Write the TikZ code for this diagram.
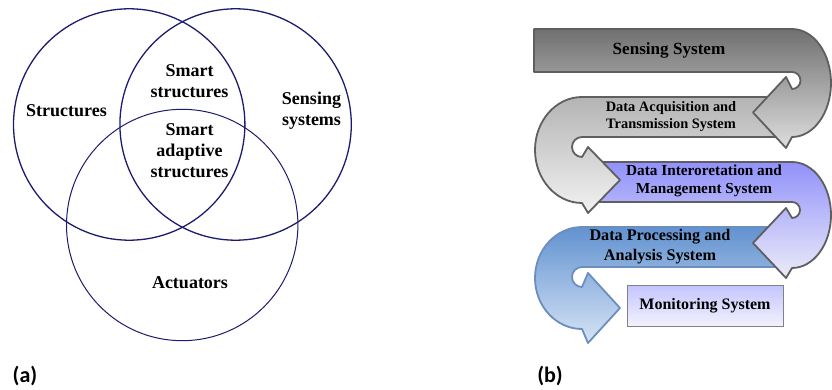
\documentclass[tikz,border=0pt]{standalone}
\usepackage{fontspec}
\setmainfont{Liberation Serif}
\newfontfamily\labelfont{Carlito}
\definecolor{venn}{RGB}{28,28,110}
\definecolor{edgegray}{RGB}{95,95,95}
\definecolor{edgeblue}{RGB}{108,142,190}
\definecolor{bonetop}{RGB}{112,112,112}
\definecolor{bonebot}{RGB}{222,222,222}
\definecolor{btwotop}{RGB}{180,180,180}
\definecolor{btwobot}{RGB}{242,242,242}
\definecolor{bthreetop}{RGB}{145,145,250}
\definecolor{bthreebot}{RGB}{236,236,249}
\definecolor{bfourtop}{RGB}{98,146,208}
\definecolor{bfourbot}{RGB}{214,228,245}
\definecolor{montop}{RGB}{196,196,255}
\definecolor{monbot}{RGB}{242,242,252}
\definecolor{monedge}{RGB}{130,130,130}
\begin{document}
\begin{tikzpicture}[x=1pt,y=1pt,
  vennc/.style={draw=venn, line width=1.3pt},
  venntext/.style={font=\fontsize{18}{21}\selectfont\bfseries, align=center, inner sep=0pt},
  band/.style={draw=edgegray, line width=1.8pt, line join=round},
  bandb/.style={draw=edgeblue, line width=1.8pt, line join=round},
  btext/.style={align=center, inner sep=0pt},
  panellabel/.style={font=\labelfont\fontsize{22}{24}\selectfont\bfseries, inner sep=0pt}]
\useasboundingbox (0,0) rectangle (832,-390);
% ---------- (a) Venn diagram ----------
\draw[vennc] (129.2,-124.5) circle[radius=115.7pt];
\draw[vennc] (235.6,-124.5) circle[radius=115.7pt];
\draw[vennc, line width=1pt] (182.2,-225) circle[radius=115.7pt];
\node[venntext] (structures) at (66.5,-111) {Structures};
\node[venntext] (smartstr) at (189.5,-81) {Smart\\structures};
\node[venntext] (sensing) at (311.5,-111) {Sensing\\systems};
\node[venntext] (smartadapt) at (189.5,-151) {Smart\\adaptive\\structures};
\node[venntext] (actuators) at (190,-283) {Actuators};
\node[panellabel] (la) at (25,-376) {(a)};
% ---------- (b) process ----------
\node[draw=monedge, line width=1pt, top color=montop, bottom color=monbot,
      minimum width=156pt, minimum height=41pt, inner sep=0pt] (monbox) at (705,-305.5) {};
% band 4
\draw[bandb, top color=bfourtop, bottom color=bfourbot]
  (780,-227) -- (582,-227) arc[start angle=90,end angle=270,x radius=47pt,y radius=51pt]
  -- (588,-343) -- (620,-308) -- (588,-273) -- (582,-287)
  arc[start angle=270,end angle=90,radius=10pt] -- (780,-267) -- cycle;
% band 3
\draw[band, top color=bthreetop, bottom color=bthreebot]
  (594,-162) -- (792,-162) arc[start angle=90,end angle=-90,x radius=39pt,y radius=53pt]
  -- (786,-278) -- (753,-243) -- (786,-208) -- (792,-218)
  arc[start angle=-90,end angle=90,radius=8pt] -- (594,-202) -- cycle;
% band 2
\draw[band, top color=btwotop, bottom color=btwobot]
  (782,-97) -- (582,-97) arc[start angle=90,end angle=270,x radius=47pt,y radius=53pt]
  -- (588,-213) -- (620,-180) -- (588,-147) -- (582,-157)
  arc[start angle=270,end angle=90,radius=10pt] -- (782,-137) -- cycle;
% band 1
\draw[band, top color=bonetop, bottom color=bonebot]
  (534,-29) -- (792,-29) arc[start angle=90,end angle=-90,x radius=39pt,y radius=54pt]
  -- (786,-148) -- (753,-112.5) -- (786,-77) -- (792,-89)
  arc[start angle=-90,end angle=90,radius=8.5pt] -- (534,-72) -- cycle;
% texts
\node[btext, font=\fontsize{17.1}{20}\selectfont\bfseries] (t1) at (669,-50.5) {Sensing System};
\node[btext, font=\fontsize{14.4}{17}\selectfont\bfseries] (t2) at (671,-116.5) {Data Acquisition and\\Transmission System};
\node[btext, font=\fontsize{15.3}{17.5}\selectfont\bfseries] (t3) at (704,-181) {Data Interoretation and\\Management System};
\node[btext, font=\fontsize{16.2}{20}\selectfont\bfseries] (t4) at (660,-247) {Data Processing and\\Analysis System};
\node[btext, font=\fontsize{16}{19}\selectfont\bfseries] (t5) at (monbox.center) {Monitoring System};
\node[panellabel] (lb) at (550,-376) {(b)};
\end{tikzpicture}
\end{document}
